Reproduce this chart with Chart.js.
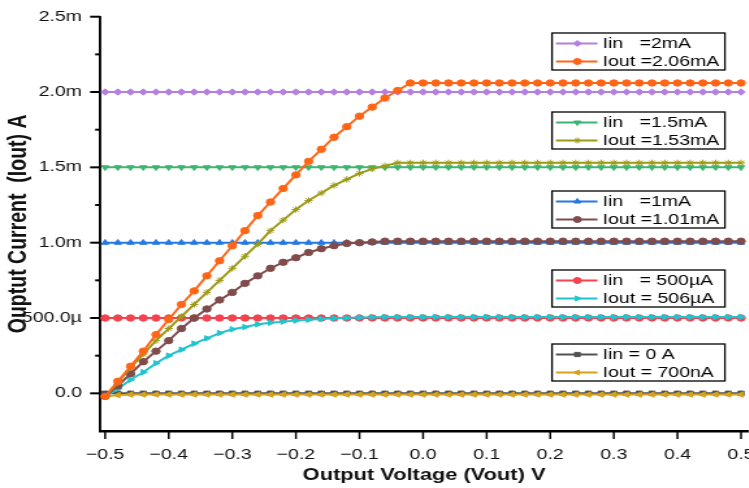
<!DOCTYPE html>
<html>
<head>
<meta charset="utf-8">
<script src="https://cdn.jsdelivr.net/npm/chart.js@4.4.1/dist/chart.umd.min.js"></script>
<style>
html, body { margin: 0; padding: 0; background: #fff; overflow: hidden; width: 749px; height: 488px; }
#wrap { width: 586px; height: 488px; transform: scaleX(1.3); transform-origin: 0 0; }
</style>
</head>
<body>
<div id="wrap"><canvas id="ivChart" width="586" height="488"></canvas></div>
<script>
// output voltage sweep (V)
const voltage = [
  -0.50, -0.48, -0.46, -0.44, -0.42, -0.40, -0.38, -0.36, -0.34, -0.32, -0.30, -0.28, -0.26, -0.24, -0.22, -0.20, -0.18,
  -0.16, -0.14, -0.12, -0.10, -0.08, -0.06, -0.04, -0.02, 0.00, 0.02, 0.04, 0.06, 0.08, 0.10, 0.12, 0.14,
  0.16, 0.18, 0.20, 0.22, 0.24, 0.26, 0.28, 0.30, 0.32, 0.34, 0.36, 0.38, 0.40, 0.42, 0.44, 0.46, 0.48, 0.50
]

// currents in mA
const iin2mA = [
  2.0, 2.0, 2.0, 2.0, 2.0, 2.0, 2.0, 2.0, 2.0, 2.0, 2.0, 2.0, 2.0, 2.0, 2.0, 2.0, 2.0,
  2.0, 2.0, 2.0, 2.0, 2.0, 2.0, 2.0, 2.0, 2.0, 2.0, 2.0, 2.0, 2.0, 2.0, 2.0, 2.0,
  2.0, 2.0, 2.0, 2.0, 2.0, 2.0, 2.0, 2.0, 2.0, 2.0, 2.0, 2.0, 2.0, 2.0, 2.0, 2.0, 2.0, 2.0
]
const iout206 = [
  -0.02, 0.08, 0.18, 0.28, 0.39, 0.49, 0.59, 0.68, 0.78, 0.88, 0.98, 1.08, 1.18, 1.27, 1.36, 1.45, 1.54,
  1.62, 1.70, 1.77, 1.84, 1.90, 1.96, 2.01, 2.06, 2.06, 2.06, 2.06, 2.06, 2.06, 2.06, 2.06, 2.06,
  2.06, 2.06, 2.06, 2.06, 2.06, 2.06, 2.06, 2.06, 2.06, 2.06, 2.06, 2.06, 2.06, 2.06, 2.06, 2.06, 2.06, 2.06
]
const iin15mA = [
  1.5, 1.5, 1.5, 1.5, 1.5, 1.5, 1.5, 1.5, 1.5, 1.5, 1.5, 1.5, 1.5, 1.5, 1.5, 1.5, 1.5,
  1.5, 1.5, 1.5, 1.5, 1.5, 1.5, 1.5, 1.5, 1.5, 1.5, 1.5, 1.5, 1.5, 1.5, 1.5, 1.5,
  1.5, 1.5, 1.5, 1.5, 1.5, 1.5, 1.5, 1.5, 1.5, 1.5, 1.5, 1.5, 1.5, 1.5, 1.5, 1.5, 1.5, 1.5
]
const iout153 = [
  -0.02, 0.07, 0.17, 0.26, 0.35, 0.43, 0.51, 0.59, 0.67, 0.75, 0.83, 0.91, 0.99, 1.08, 1.15, 1.22, 1.28,
  1.33, 1.38, 1.42, 1.46, 1.49, 1.51, 1.53, 1.53, 1.53, 1.53, 1.53, 1.53, 1.53, 1.53, 1.53, 1.53,
  1.53, 1.53, 1.53, 1.53, 1.53, 1.53, 1.53, 1.53, 1.53, 1.53, 1.53, 1.53, 1.53, 1.53, 1.53, 1.53, 1.53, 1.53
]
const iin1mA = [
  1.0, 1.0, 1.0, 1.0, 1.0, 1.0, 1.0, 1.0, 1.0, 1.0, 1.0, 1.0, 1.0, 1.0, 1.0, 1.0, 1.0,
  1.0, 1.0, 1.0, 1.0, 1.0, 1.0, 1.0, 1.0, 1.0, 1.0, 1.0, 1.0, 1.0, 1.0, 1.0, 1.0,
  1.0, 1.0, 1.0, 1.0, 1.0, 1.0, 1.0, 1.0, 1.0, 1.0, 1.0, 1.0, 1.0, 1.0, 1.0, 1.0, 1.0, 1.0
]
const iout101 = [
  -0.02, 0.05, 0.13, 0.21, 0.28, 0.35, 0.43, 0.50, 0.56, 0.62, 0.67, 0.73, 0.78, 0.83, 0.87, 0.90, 0.935,
  0.96, 0.98, 0.995, 1.00, 1.005, 1.01, 1.01, 1.01, 1.01, 1.01, 1.01, 1.01, 1.01, 1.01, 1.01, 1.01,
  1.01, 1.01, 1.01, 1.01, 1.01, 1.01, 1.01, 1.01, 1.01, 1.01, 1.01, 1.01, 1.01, 1.01, 1.01, 1.01, 1.01, 1.01
]
const iin500uA = [
  0.5, 0.5, 0.5, 0.5, 0.5, 0.5, 0.5, 0.5, 0.5, 0.5, 0.5, 0.5, 0.5, 0.5, 0.5, 0.5, 0.5,
  0.5, 0.5, 0.5, 0.5, 0.5, 0.5, 0.5, 0.5, 0.5, 0.5, 0.5, 0.5, 0.5, 0.5, 0.5, 0.5,
  0.5, 0.5, 0.5, 0.5, 0.5, 0.5, 0.5, 0.5, 0.5, 0.5, 0.5, 0.5, 0.5, 0.5, 0.5, 0.5, 0.5, 0.5
]
const iout506 = [
  -0.02, 0.03, 0.09, 0.14, 0.20, 0.25, 0.29, 0.33, 0.365, 0.40, 0.425, 0.44, 0.458, 0.469, 0.476, 0.483, 0.489,
  0.494, 0.498, 0.501, 0.503, 0.505, 0.506, 0.506, 0.506, 0.506, 0.506, 0.506, 0.506, 0.506, 0.506, 0.506, 0.506,
  0.506, 0.506, 0.506, 0.506, 0.506, 0.506, 0.506, 0.506, 0.506, 0.506, 0.506, 0.506, 0.506, 0.506, 0.506, 0.506, 0.506, 0.506
]
const iin0 = [
  0, 0, 0, 0, 0, 0, 0, 0, 0, 0, 0, 0, 0, 0, 0, 0, 0,
  0, 0, 0, 0, 0, 0, 0, 0, 0, 0, 0, 0, 0, 0, 0, 0,
  0, 0, 0, 0, 0, 0, 0, 0, 0, 0, 0, 0, 0, 0, 0, 0, 0, 0
]
const iout700n = [
  -0.02, -0.012, -0.008, -0.008, -0.008, -0.008, -0.008, -0.008, -0.008, -0.008, -0.008, -0.008, -0.008, -0.008, -0.008, -0.008, -0.008,
  -0.008, -0.008, -0.008, -0.008, -0.008, -0.008, -0.008, -0.008, -0.008, -0.008, -0.008, -0.008, -0.008, -0.008, -0.008, -0.008,
  -0.008, -0.008, -0.008, -0.008, -0.008, -0.008, -0.008, -0.008, -0.008, -0.008, -0.008, -0.008, -0.008, -0.008, -0.008, -0.008, -0.008, -0.008
]

const seriesLabels = [
  'Iin   =2mA', 'Iout =2.06mA',
  'Iin   =1.5mA', 'Iout =1.53mA',
  'Iin   =1mA', 'Iout =1.01mA',
  'Iin   = 500µA', 'Iout = 506µA',
  'Iin = 0 A', 'Iout = 700nA'
]

const xTickValues = [-0.5, -0.4, -0.3, -0.2, -0.1, 0.0, 0.1, 0.2, 0.3, 0.4, 0.5]
const xTickLabels = ['\u22120.5', '\u22120.4', '\u22120.3', '\u22120.2', '\u22120.1', '0.0', '0.1', '0.2', '0.3', '0.4', '0.5']
const yTickValues = [0, 0.5, 1.0, 1.5, 2.0, 2.5]
const yTickLabels = ['0.0', '500.0µ', '1.0m', '1.5m', '2.0m', '2.5m']
const yMinorValues = [0.25, 0.75, 1.25, 1.75, 2.25]

const FONT = "'Liberation Sans', Arial, sans-serif"

function makeSet(label, values, color, pointStyle, rotation, order) {
  return {
    label,
    data: voltage.map((v, i) => ({ x: v, y: values[i] })),
    borderColor: color,
    backgroundColor: color,
    pointBackgroundColor: color,
    pointBorderColor: color,
    pointStyle,
    rotation,
    pointRadius: 3.2,
    pointBorderWidth: 1,
    borderWidth: 2,
    order
  }
}

const datasets = [
  makeSet(seriesLabels[0], iin2mA, '#b47fe2', 'rectRot', 0, 1),
  makeSet(seriesLabels[1], iout206, '#ff6516', 'circle', 0, 0),
  makeSet(seriesLabels[2], iin15mA, '#3db46f', 'triangle', 180, 1),
  makeSet(seriesLabels[3], iout153, '#9c9a17', 'star', 0, 0),
  makeSet(seriesLabels[4], iin1mA, '#2479e2', 'triangle', 0, 1),
  makeSet(seriesLabels[5], iout101, '#7f4b4b', 'circle', 0, 0),
  makeSet(seriesLabels[6], iin500uA, '#f4424f', 'circle', 0, 1),
  makeSet(seriesLabels[7], iout506, '#20c4cf', 'triangle', 90, 0),
  makeSet(seriesLabels[8], iin0, '#525252', 'rect', 0, 1),
  makeSet(seriesLabels[9], iout700n, '#d8a21a', 'triangle', -90, 0)
]

// tick marks drawn outside the axes, long majors and short minors
const axisTicks = {
  id: 'axisTicks',
  afterDraw(chart) {
    const { ctx, chartArea, scales: { x, y } } = chart
    ctx.save()
    ctx.strokeStyle = '#000'
    const seg = (x1, y1, x2, y2) => { ctx.beginPath(); ctx.moveTo(x1, y1); ctx.lineTo(x2, y2); ctx.stroke() }
    ctx.lineWidth = 2
    yTickValues.forEach(v => { const p = y.getPixelForValue(v); seg(chartArea.left - 7.7, p, chartArea.left, p) })
    yMinorValues.forEach(v => { const p = y.getPixelForValue(v); seg(chartArea.left - 3.8, p, chartArea.left, p) })
    ctx.lineWidth = 1.5
    xTickValues.forEach(v => { const p = x.getPixelForValue(v); seg(p, chartArea.bottom, p, chartArea.bottom + 8) })
    ctx.restore()
  }
}

// five boxed legends, two entries each
const boxTops = [33, 112, 191, 270, 344]
const boxLegend = {
  id: 'boxLegend',
  afterDraw(chart) {
    const ctx = chart.ctx
    const left = 424.6, width = 133, height = 37
    ctx.save()
    boxTops.forEach((top, b) => {
      ctx.strokeStyle = '#000'
      ctx.lineWidth = 1.3
      ctx.strokeRect(left, top, width, height)
      for (let j = 0; j < 2; j++) {
        const d = chart.data.datasets[b * 2 + j]
        const yy = top + 10.5 + j * 18
        ctx.strokeStyle = d.borderColor
        ctx.fillStyle = d.borderColor
        ctx.lineWidth = d.borderWidth
        ctx.beginPath(); ctx.moveTo(left + 3, yy); ctx.lineTo(left + 35, yy); ctx.stroke()
        ctx.lineWidth = 1
        Chart.helpers.drawPoint(ctx, { pointStyle: d.pointStyle, rotation: d.rotation, radius: 3, borderWidth: 1 }, left + 19.5, yy)
        ctx.fillStyle = '#000'
        ctx.font = '15px ' + FONT
        ctx.textBaseline = 'middle'
        ctx.textAlign = 'left'
        ctx.fillText(d.label, left + 39, yy + 0.5)
      }
    })
    ctx.restore()
  }
}

new Chart('ivChart', {
  type: 'line',
  data: { datasets },
  options: {
    responsive: false,
    animation: false,
    events: [],
    layout: { padding: { top: 16.7, right: 10.6, left: 0, bottom: 0 } },
    plugins: { legend: { display: false }, tooltip: { enabled: false } },
    scales: {
      x: {
        type: 'linear',
        min: -0.5079,
        max: 0.511,
        grid: { display: false },
        border: { display: true, color: '#000', width: 2.5 },
        afterBuildTicks: s => { s.ticks = xTickValues.map(value => ({ value })) },
        afterFit: s => { s.height = 57; s.paddingLeft = 0; s.paddingRight = 0 },
        ticks: {
          padding: 7,
          color: '#111',
          font: { family: FONT, size: 15 },
          maxRotation: 0,
          callback: v => xTickLabels[xTickValues.indexOf(v)]
        },
        title: {
          display: true,
          text: 'Output Voltage (Vout) V',
          color: '#111',
          font: { family: FONT, size: 16.8, weight: 'bold' },
          padding: { top: 0, bottom: 3 }
        }
      },
      y: {
        type: 'linear',
        min: -0.25,
        max: 2.5,
        grid: { display: false },
        border: { display: true, color: '#000', width: 1.9 },
        afterBuildTicks: s => { s.ticks = yTickValues.map(value => ({ value })) },
        afterFit: s => { s.width = 77; s.paddingTop = 0; s.paddingBottom = 0 },
        ticks: {
          padding: 6,
          color: '#111',
          font: { family: FONT, size: 15 },
          callback: v => yTickLabels[yTickValues.indexOf(v)]
        },
        title: {
          display: true,
          text: 'Ouptut Current  (Iout) A',
          color: '#111',
          font: { family: FONT, size: 19.5, weight: 'bold' },
          padding: { top: 3, bottom: 0 }
        }
      }
    }
  },
  plugins: [axisTicks, boxLegend]
})
</script>
</body>
</html>
